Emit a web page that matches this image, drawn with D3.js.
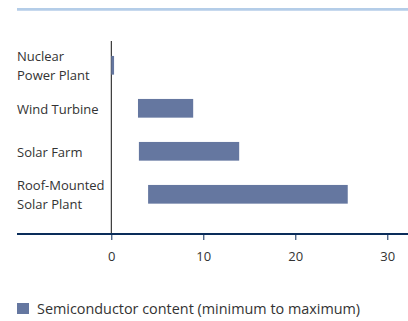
<!DOCTYPE html>
<html><head><meta charset="utf-8">
<script src="https://cdn.jsdelivr.net/npm/d3@7"></script>
<style>body{margin:0;background:#fff}svg{display:block}</style>
</head><body><svg id="c" width="408" height="321"></svg>
<script>
const categories = [["Nuclear","Power Plant"],["Wind Turbine"],["Solar Farm"],["Roof-Mounted","Solar Plant"]];
const minValues = [0, 2.9, 3.0, 4.0];
const maxValues = [0.3, 8.9, 13.9, 25.7];
const tickValues = [0, 10, 20, 30];
const legendLabel = "Semiconductor content (minimum to maximum)";

const svg = d3.select("#c");
const font = "'Open Sans', sans-serif";
const x = d3.scaleLinear().domain([0, 30]).range([111.3, 387.3]);
const y = d3.scaleBand().domain(d3.range(categories.length)).range([43.8, 215.8]).paddingInner(0.565).paddingOuter(0.2825);

svg.append("line").attr("x1",17).attr("x2",408).attr("y1",9.3).attr("y2",9.3)
  .attr("stroke","#b4cde8").attr("stroke-width",2.7);

svg.append("line").attr("x1",111.3).attr("x2",111.3).attr("y1",41).attr("y2",234)
  .attr("stroke","#111").attr("stroke-width",1);

svg.selectAll("rect.bar").data(categories).join("rect").attr("class","bar")
  .attr("x",(d,i)=>x(minValues[i])).attr("width",(d,i)=>x(maxValues[i])-x(minValues[i]))
  .attr("y",(d,i)=>y(i)).attr("height",y.bandwidth()).attr("fill","#6577a0");

const lab = svg.selectAll("text.cat").data(categories).join("text").attr("class","cat")
  .attr("x",17).attr("fill","#333").attr("font-family",font).attr("font-size",13);
lab.each(function(d,i){
  const t=d3.select(this); const c=y(i)+y.bandwidth()/2+0.8; const n=d.length;
  d.forEach((s,k)=>t.append("tspan").attr("x",17).attr("y",c+(k-(n-1)/2)*19).attr("dy","0.35em").text(s));
});

const ax = svg.append("g").attr("transform","translate(0,234)")
  .call(d3.axisBottom(x).tickValues(tickValues).tickSize(6).tickPadding(12));
ax.select(".domain").remove();
ax.selectAll(".tick line").attr("stroke","#0a2d5a").attr("stroke-width",1);
ax.selectAll(".tick text").attr("fill","#333").attr("font-family",font).attr("font-size",13);
svg.append("line").attr("x1",17).attr("x2",408).attr("y1",234).attr("y2",234)
  .attr("stroke","#0a2d5a").attr("stroke-width",2);

svg.append("rect").attr("x",17).attr("y",303).attr("width",12).attr("height",11).attr("fill","#6577a0");
svg.append("text").attr("x",37).attr("y",308.5).attr("dy","0.35em").attr("fill","#333")
  .attr("font-family",font).attr("font-size",14.4).text(legendLabel);
</script></body></html>
